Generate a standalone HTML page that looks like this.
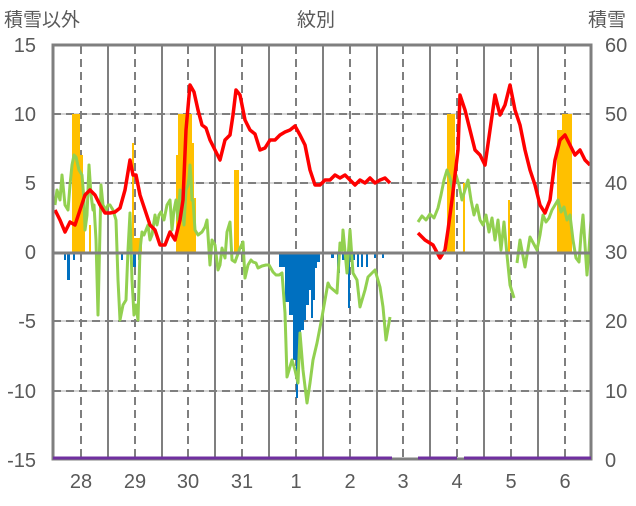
<!DOCTYPE html>
<html><head><meta charset="utf-8"><style>
html,body{margin:0;padding:0;background:#fff;}
svg text{font-family:"Liberation Sans","Noto Sans CJK JP",sans-serif;fill:#595959;}
</style></head><body>
<svg width="636" height="501" viewBox="0 0 636 501" xmlns="http://www.w3.org/2000/svg">
<text x="4" y="26" font-size="19">積雪以外</text>
<text x="316" y="26" font-size="19" text-anchor="middle">紋別</text>
<text x="588" y="26" font-size="19">積雪</text>
<g font-size="20" text-anchor="end">
<text x="36" y="52">15</text><text x="36" y="121">10</text><text x="36" y="190">5</text>
<text x="36" y="259">0</text><text x="36" y="328">-5</text><text x="36" y="398">-10</text><text x="36" y="467">-15</text>
</g>
<g font-size="20">
<text x="605" y="52">60</text><text x="605" y="121">50</text><text x="605" y="190">40</text>
<text x="605" y="259">30</text><text x="605" y="328">20</text><text x="605" y="398">10</text><text x="605" y="467">0</text>
</g>
<g font-size="20" text-anchor="middle">
<text x="81" y="488">28</text><text x="135" y="488">29</text><text x="188" y="488">30</text><text x="242" y="488">31</text>
<text x="296" y="488">1</text><text x="350" y="488">2</text><text x="403" y="488">3</text><text x="457" y="488">4</text>
<text x="511" y="488">5</text><text x="565" y="488">6</text>
</g>
<!-- grid -->
<g stroke="#c8c8c8" stroke-width="1.5">
<line x1="53" y1="114" x2="591" y2="114"/><line x1="53" y1="183" x2="591" y2="183"/>
<line x1="53" y1="321" x2="591" y2="321"/><line x1="53" y1="391" x2="591" y2="391"/>
</g>
<g stroke="#7f7f7f" stroke-width="2" stroke-dasharray="8,5">
<line x1="53" y1="114" x2="591" y2="114"/><line x1="53" y1="183" x2="591" y2="183"/>
<line x1="53" y1="321" x2="591" y2="321"/><line x1="53" y1="391" x2="591" y2="391"/>
<line x1="81" y1="46" x2="81" y2="459"/><line x1="135" y1="46" x2="135" y2="459"/><line x1="188" y1="46" x2="188" y2="459"/>
<line x1="242" y1="46" x2="242" y2="459"/><line x1="296" y1="46" x2="296" y2="459"/><line x1="350" y1="46" x2="350" y2="459"/>
<line x1="403" y1="46" x2="403" y2="459"/><line x1="457" y1="46" x2="457" y2="459"/><line x1="511" y1="46" x2="511" y2="459"/>
<line x1="565" y1="46" x2="565" y2="459"/>
</g>
<g stroke="#7f7f7f" stroke-width="2">
<line x1="108" y1="46" x2="108" y2="459"/><line x1="162" y1="46" x2="162" y2="459"/><line x1="215" y1="46" x2="215" y2="459"/>
<line x1="269" y1="46" x2="269" y2="459"/><line x1="323" y1="46" x2="323" y2="459"/><line x1="377" y1="46" x2="377" y2="459"/>
<line x1="430" y1="46" x2="430" y2="459"/><line x1="484" y1="46" x2="484" y2="459"/><line x1="538" y1="46" x2="538" y2="459"/>
</g>
<!-- orange bars -->
<g fill="#ffc000">
<rect x="72" y="114" width="8" height="139"/><rect x="80" y="155" width="3" height="98"/><rect x="83" y="198" width="2" height="55"/>
<rect x="89" y="225" width="2" height="28"/>
<rect x="132" y="143" width="2" height="110"/><rect x="134" y="238" width="8" height="15"/>
<rect x="176" y="155" width="2" height="98"/><rect x="178" y="114" width="14" height="139"/><rect x="192" y="143" width="2" height="110"/>
<rect x="194" y="198" width="2" height="55"/><rect x="234" y="170" width="5" height="83"/>
<rect x="447" y="114" width="8" height="139"/><rect x="463" y="183" width="2" height="70"/><rect x="508" y="200" width="2" height="53"/>
<rect x="557" y="130" width="5" height="123"/><rect x="562" y="114" width="10" height="139"/>
</g>
<!-- blue bars -->
<g fill="#0070c0">
<rect x="64" y="253" width="2" height="7"/><rect x="67" y="253" width="3" height="27"/><rect x="73" y="253" width="2" height="7"/>
<rect x="121" y="253" width="2" height="7"/><rect x="133" y="253" width="3" height="14"/><rect x="138" y="253" width="2" height="7"/>
<rect x="279" y="253" width="6" height="14"/><rect x="285" y="253" width="4" height="49"/><rect x="289" y="253" width="4" height="62"/>
<rect x="293" y="253" width="3" height="107"/><rect x="296" y="253" width="2" height="145"/><rect x="298" y="253" width="3" height="97"/>
<rect x="301" y="253" width="3" height="77"/><rect x="304" y="253" width="2" height="67"/><rect x="306" y="253" width="3" height="52"/>
<rect x="309" y="253" width="2" height="37"/><rect x="311" y="253" width="2" height="65"/><rect x="313" y="253" width="2" height="47"/>
<rect x="315" y="253" width="2" height="15"/><rect x="317" y="253" width="3" height="9"/>
<rect x="331" y="253" width="3" height="5"/><rect x="337" y="253" width="3" height="20"/><rect x="342" y="253" width="3" height="7"/>
<rect x="348" y="253" width="2" height="55"/><rect x="350" y="253" width="5" height="7"/><rect x="357" y="253" width="2" height="14"/>
<rect x="361" y="253" width="2" height="14"/><rect x="366" y="253" width="2" height="14"/><rect x="374" y="253" width="2" height="5"/><rect x="382" y="253" width="2" height="5"/>
</g>
<!-- green -->
<g fill="none" stroke="#92d050" stroke-width="3" stroke-linejoin="round">
<polyline points="55,205 57,190 60,200 62,175 65,205 68,210 70,185 72,165 74,155 76,157 79,170 82,175 84,200 85,230 87,215 88,190 89,165 91,195 93,210 94,205 96,240 98,315 100,230 101,185 103,205 106,210 108,205 110,205 113,210 116,220 118,280 120,320 123,305 126,300 128,250 130,213 132,280 134,315 136,305 138,320 140,250 142,232 144,235 146,230 148,225 150,240 152,235 155,215 157,225 159,215 161,212 164,220 167,205 170,200 172,230 174,210 176,200 178,220 180,190 182,205 184,225 186,190 188,185 189,178 190,165 191,178 192,200 193,200 195,230 198,235 202,232 205,227 207,220 210,265 212,240 215,245 218,270 220,265 222,248 225,258 227,232 230,222 232,260 235,262 240,248 243,242 245,278 248,265 251,260 253,262 256,263 258,268 262,266 266,265 269,265 273,272 276,275 279,275 282,273 285,313 287,377 292,360 295,370 298,383 300,333 303,370 307,403 310,383 313,360 317,343 322,317 328,283 330,287 337,293 340,243 342,250 343,230 347,273 350,230 353,273 357,280 360,307 365,290 368,277 375,270 380,287 383,307 386,340 390,317"/>
<polyline points="418,222 422,216 426,220 430,214 434,218 438,208 441,195 444,180 447,170 450,178 453,190 456,175 459,185 462,200 465,190 468,180 471,200 474,215 477,205 480,220 483,225 486,215 489,232 492,218 495,240 498,220 501,250 504,222 507,255 510,285 514,298"/>
<polyline points="517,263 520,240 525,267 530,237 537,250 540,235 543,215 546,222 549,218 552,210 555,205 558,200 561,212 564,207 567,220 570,215 573,240 576,258 579,262 581,235 583,215 585,245 587,275 589,250 591,220"/>
</g>
<!-- red -->
<g fill="none" stroke="#ff0000" stroke-width="3.5" stroke-linejoin="round">
<polyline points="55,210 60,220 65,232 70,222 75,225 80,210 85,195 90,190 95,195 100,205 105,213 110,213 115,212 120,208 125,190 130,160 133,175 136,175 140,195 145,210 150,225 155,230 160,245 165,245 170,232 175,240 180,220 183,200 186,130 190,85 194,92 198,110 202,125 206,128 210,140 215,150 220,160 225,140 230,135 233,115 236,90 240,95 245,120 250,130 255,134 260,150 265,148 270,140 275,140 280,135 285,132 290,130 295,126 300,135 305,145 310,170 315,185 320,185 325,180 330,180 335,175 340,178 345,175 350,180 355,185 360,180 365,183 370,178 375,183 380,180 385,178 390,183"/>
<polyline points="418,233 425,240 433,245 440,258 445,250 448,230 452,200 458,150 460,95 465,110 470,130 475,150 480,155 485,165 490,130 495,95 500,115 505,105 510,85 515,110 520,125 525,150 530,170 535,185 540,205 545,213 550,200 555,160 560,140 565,135 570,145 575,155 580,150 585,160 590,165"/>
</g>
<!-- axes -->
<line x1="53" y1="253" x2="591" y2="253" stroke="#7f7f7f" stroke-width="3"/>
<rect x="53" y="45" width="538" height="414" fill="none" stroke="#7f7f7f" stroke-width="3"/>
<g stroke="#7030a0" stroke-width="3">
<line x1="53" y1="458" x2="392" y2="458"/><line x1="418" y1="458" x2="457" y2="458"/><line x1="464" y1="458" x2="591" y2="458"/>
</g>
</svg>
</body></html>
